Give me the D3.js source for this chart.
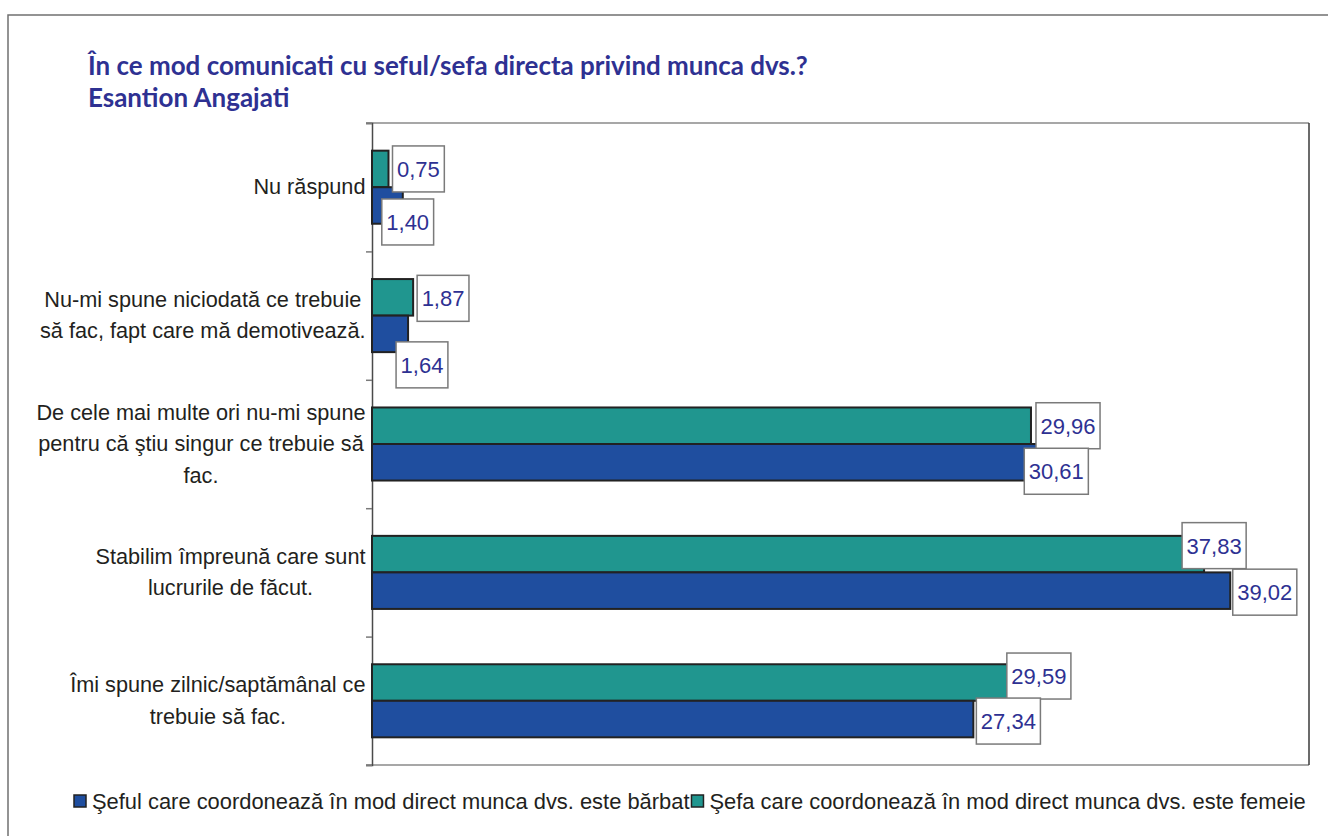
<!DOCTYPE html>
<html>
<head>
<meta charset="utf-8">
<script src="https://cdn.jsdelivr.net/npm/d3@7"></script>
<style>
  body { margin: 0; background: #ffffff; }
  svg { display: block; }
</style>
</head>
<body>
<svg id="chart" width="1328" height="836"></svg>
<script>
// Survey answers, listed top to bottom (each answer split into its display lines)
const categories = [
  ["Nu răspund"],
  ["Nu-mi spune niciodată ce trebuie", "să fac, fapt care mă demotivează."],
  ["De cele mai multe ori nu-mi spune", "pentru că ştiu singur ce trebuie să", "fac."],
  ["Stabilim împreună care sunt", "lucrurile de făcut."],
  ["Îmi spune zilnic/saptămânal ce", "trebuie să fac."]
];

// Percentages per answer
const barbat = [1.40, 1.64, 30.61, 39.02, 27.34];
const femeie = [0.75, 1.87, 29.96, 37.83, 29.59];

const seriesNames = {
  barbat: "Şeful care coordonează în mod direct munca dvs. este bărbat",
  femeie: "Şefa care coordonează în mod direct munca dvs. este femeie"
};

const titleLines = [
  "În ce mod comunicati cu seful/sefa directa privind munca dvs.?",
  "Esantion Angajati"
];

// ---- layout & style ----
const colors = { barbat: "#1f4e9f", femeie: "#20968f" };
const ink = "#2e3192";
const sans = "Arial, 'Liberation Sans', sans-serif";
const plot = { left: 372, right: 1309, top: 123, bottom: 765 };
const xMax = 42.6;
// hand placement of the value boxes: [dx, dy] relative to default spot
const labelShift = {
  femeie: [[0, 0], [0, 1], [1, 0], [-26, -8.5], [-20, -6.5]],
  barbat: [[-25, 16.5], [-16, 31], [-25, 9], [-1.5, 1.5], [-1, 2]]
};

const svg = d3.select("#chart");
const fmt = d3.formatLocale({ decimal: ",", thousands: ".", grouping: [3], currency: ["", ""] }).format(".2f");

// outer frame
svg.append("rect")
  .attr("x", 8).attr("y", 15).attr("width", 1340).attr("height", 840)
  .attr("fill", "none").attr("stroke", "#707070").attr("stroke-width", 1.5);

// title
const title = svg.append("text")
  .attr("x", 88).attr("fill", ink)
  .style("font-family", "Lato, 'Open Sans', sans-serif")
  .style("font-weight", "bold")
  .style("font-size", "23px");
title.selectAll("tspan").data(titleLines).join("tspan")
  .attr("x", 88).attr("y", (d, i) => 75 + i * 32).text(d => d);
// fit title line 1 to its width
{
  const w = title.select("tspan").node().getComputedTextLength();
  const target = 720;
  title.style("font-size", (23 * target / w).toFixed(2) + "px");
}

// scales
const x = d3.scaleLinear().domain([0, xMax]).range([plot.left, plot.right]);
const idx = d3.range(categories.length);
const y = d3.scaleBand().domain(idx).range([plot.top, plot.bottom])
  .paddingInner(0.431).paddingOuter(0.2155);
const keys = ["femeie", "barbat"];
const ySub = d3.scaleBand().domain(keys).range([0, y.bandwidth()]);
const values = { barbat, femeie };

// plot frame: top and bottom gray, right dark
svg.append("line").attr("x1", plot.left - 6).attr("x2", plot.right)
  .attr("y1", plot.top).attr("y2", plot.top).attr("stroke", "#8a8a8a").attr("stroke-width", 1.5);
svg.append("line").attr("x1", plot.left - 6).attr("x2", plot.right)
  .attr("y1", plot.bottom).attr("y2", plot.bottom).attr("stroke", "#8a8a8a").attr("stroke-width", 1.5);
svg.append("line").attr("x1", plot.right).attr("x2", plot.right)
  .attr("y1", plot.top).attr("y2", plot.bottom).attr("stroke", "#3a3a3a").attr("stroke-width", 1.5);

// category axis with ticks at band boundaries
const yEdge = d3.scaleLinear().domain([0, categories.length]).range([plot.top, plot.bottom]);
const yAxis = svg.append("g")
  .attr("transform", `translate(${plot.left},0)`)
  .call(d3.axisLeft(yEdge).tickValues(d3.range(categories.length + 1)).tickSize(6).tickFormat(""));
yAxis.select(".domain").attr("stroke", "#4a4a4a").attr("stroke-width", 1.5);
yAxis.selectAll(".tick line").attr("stroke", "#7a7a7a").attr("stroke-width", 1.5);

// category labels: block right-aligned to the axis, lines centred inside it
const catG = svg.append("g")
  .style("font-family", sans)
  .style("font-size", "21.7px").attr("fill", "#231f20");
categories.forEach((lines, i) => {
  const t = catG.append("text").attr("text-anchor", "middle");
  const sp = t.selectAll("tspan").data(lines).join("tspan").text(d => d);
  const widths = sp.nodes().map(n => n.getComputedTextLength());
  const blockW = d3.max(widths);
  const cx = plot.left - 6.5 - blockW / 2;
  const lh = 31.5;
  const cy = y(i) + y.bandwidth() / 2;
  const y0 = cy - (lines.length - 1) * lh / 2 + 7;
  sp.attr("x", cx).attr("y", (d, k) => y0 + k * lh);
});

// bars
const bars = svg.append("g");
idx.forEach(i => {
  keys.forEach(k => {
    bars.append("rect")
      .attr("x", x(0))
      .attr("y", y(i) + ySub(k))
      .attr("width", x(values[k][i]) - x(0))
      .attr("height", ySub.bandwidth())
      .attr("fill", colors[k])
      .attr("stroke", "#222222").attr("stroke-width", 2);
  });
});

// value boxes
const lab = svg.append("g")
  .style("font-family", sans)
  .style("font-size", "22px");
const boxH = 46;
idx.forEach(i => {
  keys.forEach(k => {
    const v = values[k][i];
    const [dx, dy] = labelShift[k][i];
    const g = lab.append("g");
    const t = g.append("text").attr("fill", ink).attr("text-anchor", "middle").text(fmt(v));
    const w = t.node().getComputedTextLength() + 9;
    const bx = x(v) + 4 + dx;
    const by = y(i) + ySub(k) + ySub.bandwidth() / 2 - boxH / 2 + dy;
    g.insert("rect", "text")
      .attr("x", bx).attr("y", by).attr("width", w).attr("height", boxH)
      .attr("fill", "#ffffff").attr("stroke", "#7a7a7a").attr("stroke-width", 1.5);
    t.attr("x", bx + w / 2).attr("y", by + boxH / 2 + 8);
  });
});

// legend
const leg = svg.append("g")
  .style("font-family", sans)
  .style("font-size", "21.9px");
let lx = 74;
["barbat", "femeie"].forEach(k => {
  leg.append("rect").attr("x", lx).attr("y", 795).attr("width", 12).attr("height", 12)
    .attr("fill", colors[k]).attr("stroke", "#222222").attr("stroke-width", 1.5);
  const t = leg.append("text").attr("x", lx + 18).attr("y", 809).attr("fill", "#231f20").text(seriesNames[k]);
  lx = lx + 18 + t.node().getComputedTextLength() + 2;
});
</script>
</body>
</html>
